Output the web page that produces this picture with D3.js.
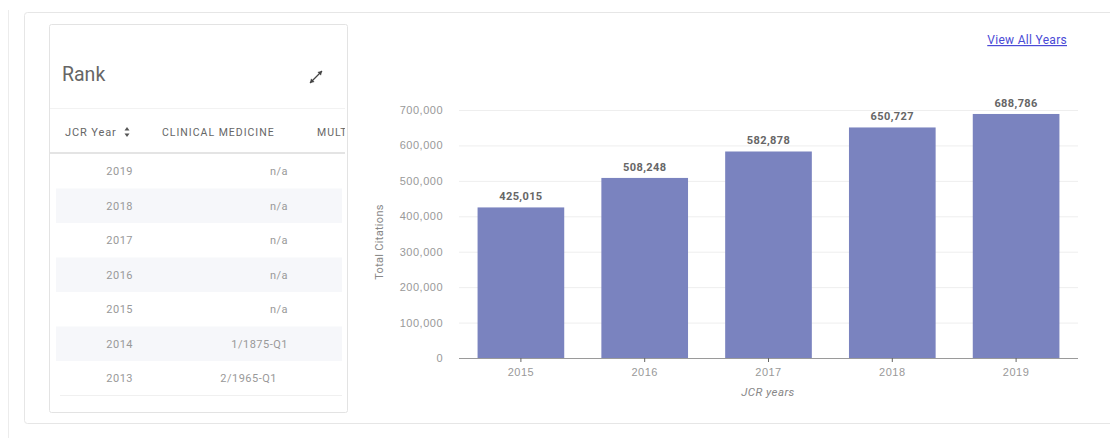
<!DOCTYPE html>
<html>
<head>
<meta charset="utf-8">
<script src="https://cdn.jsdelivr.net/npm/d3@7"></script>
<style>
  html, body { margin: 0; padding: 0; background: #fff; }
  svg { display: block; font-family: Roboto, "Liberation Sans", Arial, sans-serif; }
  .tick text { fill: #999; font-size: 11px; letter-spacing: 0.5px; }
</style>
</head>
<body>
<svg id="page" width="1110" height="438"></svg>
<script>
// chart data
const years = ['2015', '2016', '2017', '2018', '2019'];
const citations = [425015, 508248, 582878, 650727, 688786];
const yTicks = [0, 100000, 200000, 300000, 400000, 500000, 600000, 700000];

// rank table data
const rankColumns = ['JCR Year', 'CLINICAL MEDICINE', 'MULTIDISCIPLINARY SCIENCES'];
const rankYears = ['2019', '2018', '2017', '2016', '2015', '2014', '2013'];
const rankClinical = ['n/a', 'n/a', 'n/a', 'n/a', 'n/a', '1/1875-Q1', '2/1965-Q1'];

const svg = d3.select('#page');
const fmt = d3.format(',');

// page frames
svg.append('line').attr('x1', 8.5).attr('x2', 8.5).attr('y1', 10).attr('y2', 438)
  .style('stroke', '#ececec');
svg.append('rect').attr('x', 24.5).attr('y', 12.5).attr('width', 1100).attr('height', 411)
  .attr('rx', 3).style('fill', '#fff').style('stroke', '#e6e6e6');

// rank card
const card = svg.append('g');
card.append('rect').attr('x', 49.5).attr('y', 24.5).attr('width', 298).attr('height', 388)
  .attr('rx', 2).style('fill', '#fff').style('stroke', '#e3e3e3');

card.append('text').attr('x', 62).attr('y', 81).text('Rank')
  .style('font-size', '19.5px').style('fill', '#666');

// expand icon
const ic = card.append('g').attr('transform', 'translate(316,77)')
  .style('stroke', '#444').style('fill', '#444');
ic.append('line').attr('x1', -6).attr('y1', 6).attr('x2', 6).attr('y2', -6).style('stroke-width', 1.2);
ic.append('path').attr('d', 'M6,-6 L1.5,-5 L5,-1.5 Z').style('stroke', 'none');
ic.append('path').attr('d', 'M-6,6 L-1.5,5 L-5,1.5 Z').style('stroke', 'none');

const clip = svg.append('defs').append('clipPath').attr('id', 'cardClip');
clip.append('rect').attr('x', 50).attr('y', 25).attr('width', 295).attr('height', 387);
const tbl = card.append('g').attr('clip-path', 'url(#cardClip)');

tbl.append('line').attr('x1', 50).attr('x2', 347).attr('y1', 108.5).attr('y2', 108.5)
  .style('stroke', '#f2f2f2');

const colX = [65, 162, 317];
tbl.selectAll('text.head').data(rankColumns).join('text')
  .attr('class', 'head')
  .attr('x', (d, i) => colX[i]).attr('y', 136)
  .text(d => d)
  .style('font-size', d => d === 'JCR Year' ? '11px' : '10.5px')
  .style('letter-spacing', d => d === 'JCR Year' ? '0.9px' : '1px')
  .style('fill', '#666');

// sort arrows
const so = tbl.append('g').attr('transform', 'translate(127,132)').style('fill', '#555');
so.append('path').attr('d', 'M-2.5,-1.5 L2.5,-1.5 L0,-5 Z');
so.append('path').attr('d', 'M-2.5,1.5 L2.5,1.5 L0,5 Z');

tbl.append('rect').attr('x', 50).attr('y', 152).attr('width', 297).attr('height', 2)
  .style('fill', '#e4e4e4');

const rowH = 34.5;
const rowY = d3.scaleBand().domain(rankYears).range([154, 154 + rowH * rankYears.length]);

tbl.selectAll('rect.row').data(rankYears).join('rect')
  .attr('class', 'row')
  .attr('x', 56).attr('width', 286)
  .attr('y', d => rowY(d)).attr('height', rowY.bandwidth())
  .style('fill', (d, i) => i % 2 ? '#f6f7fa' : '#fff');

tbl.selectAll('text.year').data(rankYears).join('text')
  .attr('class', 'year')
  .attr('x', 133).attr('y', d => rowY(d) + rowY.bandwidth() / 2 + 4)
  .attr('text-anchor', 'end')
  .text(d => d)
  .style('font-size', '11px').style('letter-spacing', '0.5px').style('fill', '#999');

tbl.selectAll('text.val').data(rankClinical).join('text')
  .attr('class', 'val')
  .attr('x', (d, i) => i === rankClinical.length - 1 ? 277 : 288)
  .attr('y', (d, i) => rowY(rankYears[i]) + rowY.bandwidth() / 2 + 4)
  .attr('text-anchor', 'end')
  .text(d => d)
  .style('font-size', '11px').style('letter-spacing', '0.5px').style('fill', '#999');

tbl.append('line').attr('x1', 60).attr('x2', 342).attr('y1', 395.5).attr('y2', 395.5)
  .style('stroke', '#f0f0f0');

// view all years link
svg.append('text').attr('x', 1067).attr('y', 44).attr('text-anchor', 'end')
  .text('View All Years')
  .style('font-size', '12px').style('letter-spacing', '0.3px').style('fill', '#4a4ad6')
  .style('text-decoration', 'underline');

// bar chart
const x = d3.scaleBand().domain(years).range([459, 1078]).paddingInner(0.3).paddingOuter(0.15);
const y = d3.scaleLinear().domain([0, 700000]).range([358, 110]);

const grid = svg.append('g');
grid.selectAll('line').data(yTicks.slice(1)).join('line')
  .attr('x1', 459).attr('x2', 1078)
  .attr('y1', d => y(d) + 0.5).attr('y2', d => y(d) + 0.5)
  .style('stroke', '#eeeeee');

const yAxis = svg.append('g').attr('transform', 'translate(459,0)')
  .call(d3.axisLeft(y).tickValues(yTicks).tickFormat(fmt).tickSize(0).tickPadding(16));
yAxis.select('.domain').remove();

svg.selectAll('rect.bar').data(citations).join('rect')
  .attr('class', 'bar')
  .attr('x', (d, i) => x(years[i]))
  .attr('width', x.bandwidth())
  .attr('y', d => y(d))
  .attr('height', d => y(0) - y(d))
  .style('fill', '#7a83bf');

svg.selectAll('text.lbl').data(citations).join('text')
  .attr('class', 'lbl')
  .attr('x', (d, i) => x(years[i]) + x.bandwidth() / 2)
  .attr('y', d => y(d) - 7)
  .attr('text-anchor', 'middle')
  .text(d => fmt(d))
  .style('font-size', '11px').style('font-weight', 'bold').style('letter-spacing', '0.4px')
  .style('fill', '#666');

const xAxis = svg.append('g').attr('transform', 'translate(0,358)')
  .call(d3.axisBottom(x).tickSize(4).tickPadding(6));
xAxis.select('.domain').attr('d', 'M459,0.5H1078').style('stroke', '#9a9a9a');
xAxis.selectAll('.tick line').style('stroke', '#666');

svg.append('text').attr('x', 768).attr('y', 396).attr('text-anchor', 'middle')
  .text('JCR years')
  .style('font-size', '11.5px').style('font-style', 'italic').style('letter-spacing', '0.4px')
  .style('fill', '#888');

svg.append('text')
  .attr('transform', 'translate(383,242) rotate(-90)')
  .attr('text-anchor', 'middle')
  .text('Total Citations')
  .style('font-size', '11px').style('letter-spacing', '0.3px').style('fill', '#888');
</script>
</body>
</html>
